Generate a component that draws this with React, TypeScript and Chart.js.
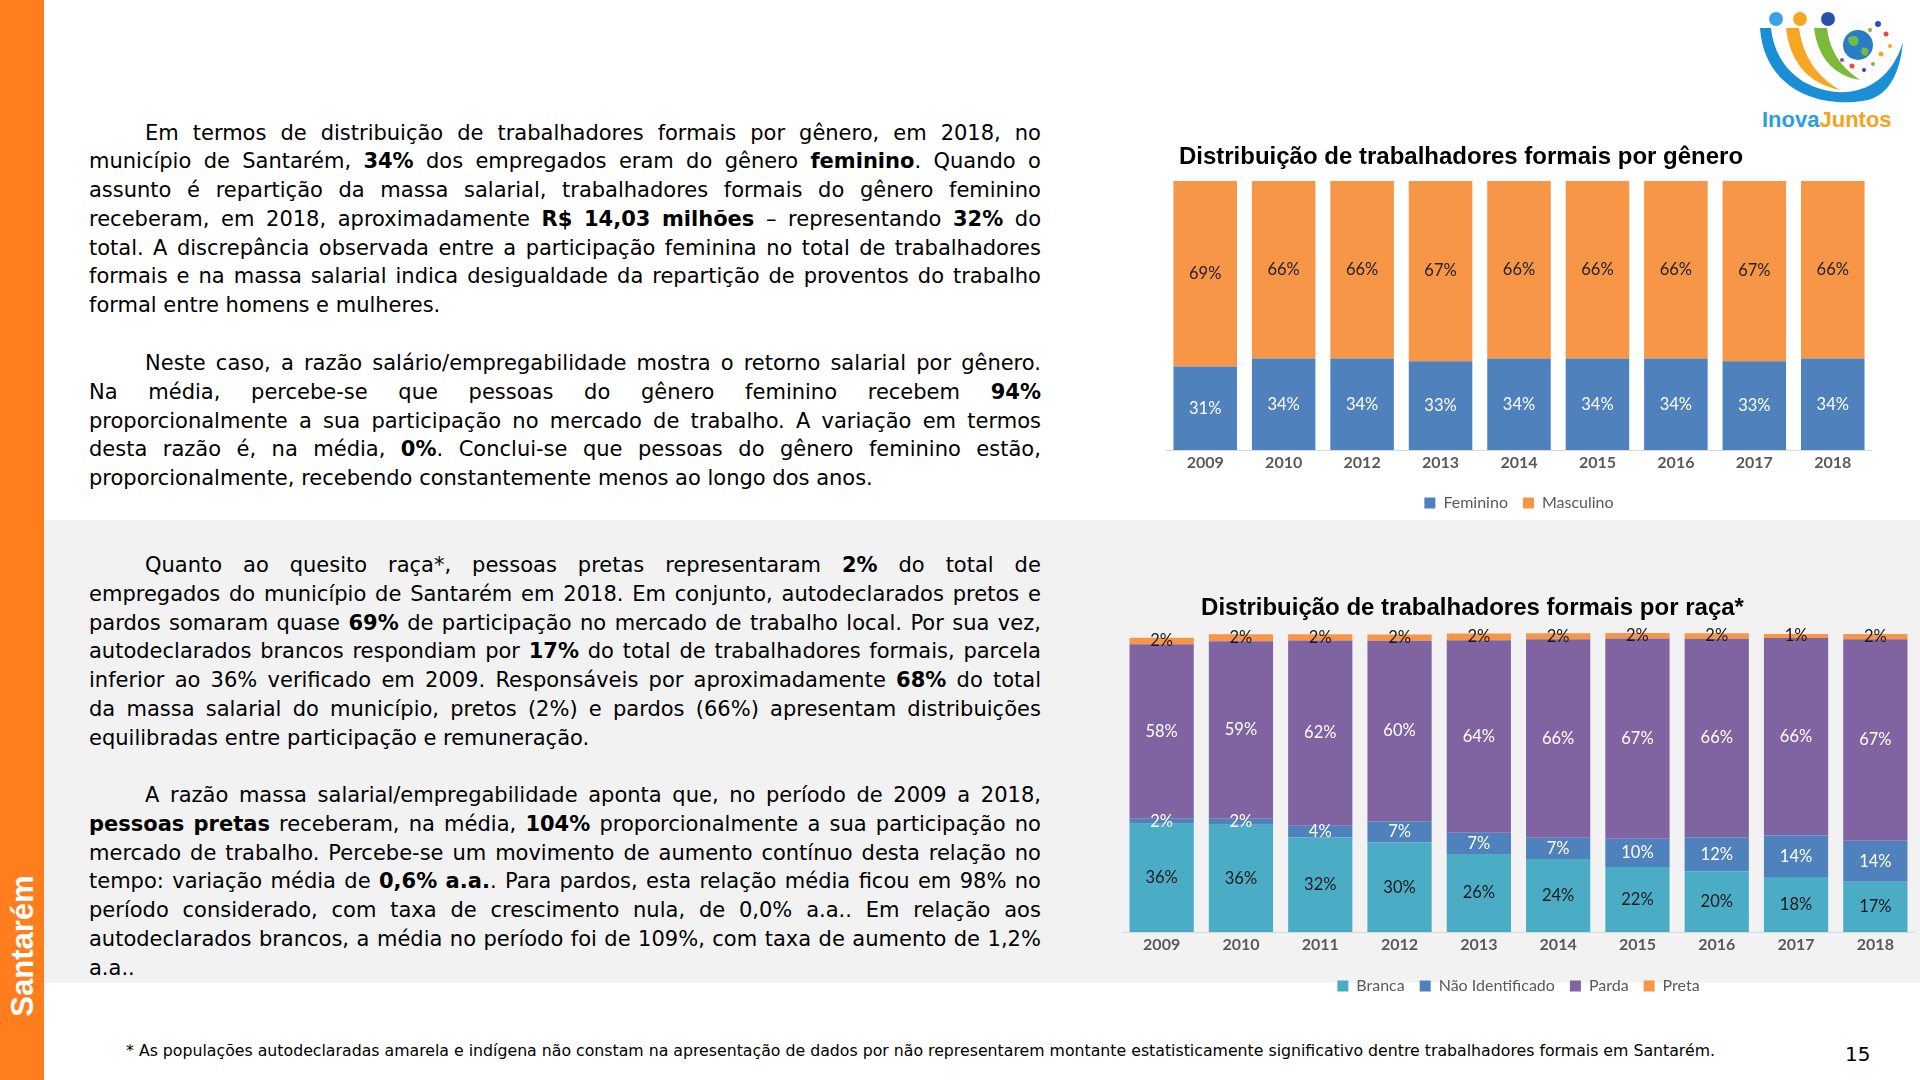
import React, { useEffect, useRef } from 'react';
import { Chart, registerables } from 'chart.js';

Chart.register(...registerables);

// ---------- DATA ----------
const genderYears = ['2009', '2010', '2012', '2013', '2014', '2015', '2016', '2017', '2018'];
const feminino = [31, 34, 34, 33, 34, 34, 34, 33, 34];
const masculino = [69, 66, 66, 67, 66, 66, 66, 67, 66];

const raceYears = ['2009', '2010', '2011', '2012', '2013', '2014', '2015', '2016', '2017', '2018'];
const branca = [36.2, 35.9, 31.7, 29.9, 26.1, 24.4, 21.7, 20.2, 18.4, 16.8];
const naoIdentificado = [1.7, 2.0, 3.8, 7.1, 7.1, 7.1, 9.5, 11.5, 13.9, 13.7];
const parda = [58.3, 59.3, 62.0, 60.4, 64.4, 66.4, 67.0, 66.4, 66.0, 67.4];
const preta = [2.2, 2.4, 2.1, 2.1, 2.2, 2.0, 1.8, 1.8, 1.4, 1.8];

const genderTitle = 'Distribuição de trabalhadores formais por gênero';
const raceTitle = 'Distribuição de trabalhadores formais por raça*';

const paragraph1 = [
  'Em termos de distribuição de trabalhadores formais por gênero, em 2018, no',
  'município de Santarém, **34%** dos empregados eram do gênero **feminino**. Quando o',
  'assunto é repartição da massa salarial, trabalhadores formais do gênero feminino',
  'receberam, em 2018, aproximadamente **R$ 14,03 milhões** – representando **32%** do',
  'total. A discrepância observada entre a participação feminina no total de trabalhadores',
  'formais e na massa salarial indica desigualdade da repartição de proventos do trabalho',
  'formal entre homens e mulheres.',
];
const paragraph2 = [
  'Neste caso, a razão salário/empregabilidade mostra o retorno salarial por gênero.',
  'Na média, percebe-se que pessoas do gênero feminino recebem **94%**',
  'proporcionalmente a sua participação no mercado de trabalho. A variação em termos',
  'desta razão é, na média, **0%**. Conclui-se que pessoas do gênero feminino estão,',
  'proporcionalmente, recebendo constantemente menos ao longo dos anos.',
];
const paragraph3 = [
  'Quanto ao quesito raça*, pessoas pretas representaram **2%** do total de',
  'empregados do município de Santarém em 2018. Em conjunto, autodeclarados pretos e',
  'pardos somaram quase **69%** de participação no mercado de trabalho local. Por sua vez,',
  'autodeclarados brancos respondiam por **17%** do total de trabalhadores formais, parcela',
  'inferior ao 36% verificado em 2009. Responsáveis por aproximadamente **68%** do total',
  'da massa salarial do município, pretos (2%) e pardos (66%) apresentam distribuições',
  'equilibradas entre participação e remuneração.',
];
const paragraph4 = [
  'A razão massa salarial/empregabilidade aponta que, no período de 2009 a 2018,',
  '**pessoas pretas** receberam, na média, **104%** proporcionalmente a sua participação no',
  'mercado de trabalho. Percebe-se um movimento de aumento contínuo desta relação no',
  'tempo: variação média de **0,6% a.a.**. Para pardos, esta relação média ficou em 98% no',
  'período considerado, com taxa de crescimento nula, de 0,0% a.a.. Em relação aos',
  'autodeclarados brancos, a média no período foi de 109%, com taxa de aumento de 1,2%',
  'a.a..',
];
const footnote =
  '* As populações autodeclaradas amarela e indígena não constam na apresentação de dados por não representarem montante estatisticamente significativo dentre trabalhadores formais em Santarém.';
const sideLabel = 'Santarém';
const pageNumber = '15';

// ---------- TEXT HELPERS ----------
type Piece = { t: string; b: boolean };
function parseLine(line: string): Piece[][] {
  const parts = line.split('**');
  const words: Piece[][] = [[]];
  parts.forEach((p, i) => {
    const bold = i % 2 === 1;
    p.split(' ').forEach((piece, j) => {
      if (j > 0) words.push([]);
      if (piece) words[words.length - 1].push({ t: piece, b: bold });
    });
  });
  return words.filter((w) => w.length > 0);
}

function Word({ w }: { w: Piece[] }) {
  return (
    <span>
      {w.map((p, i) => (
        <span key={i} style={{ fontWeight: p.b ? 'bold' : 'normal' }}>
          {p.t}
        </span>
      ))}
    </span>
  );
}

function Paragraph({ lines, top }: { lines: string[]; top: number }) {
  return (
    <div
      style={{
        position: 'absolute',
        left: 89,
        top,
        width: 952,
        fontFamily: "'DejaVu Sans', Verdana, sans-serif",
        fontSize: 21,
        lineHeight: '28.8px',
        color: '#000',
      }}
    >
      {lines.map((line, li) => {
        const words = parseLine(line);
        const last = li === lines.length - 1;
        const indent = li === 0 ? 56 : 0;
        if (last) {
          return (
            <div key={li} style={{ paddingLeft: indent, whiteSpace: 'nowrap', height: 28.8 }}>
              {words.map((w, i) => (
                <React.Fragment key={i}>
                  {i > 0 ? ' ' : ''}
                  <Word w={w} />
                </React.Fragment>
              ))}
            </div>
          );
        }
        return (
          <div
            key={li}
            style={{
              display: 'flex',
              justifyContent: 'space-between',
              paddingLeft: indent,
              whiteSpace: 'nowrap',
              height: 28.8,
            }}
          >
            {words.map((w, i) => (
              <Word key={i} w={w} />
            ))}
          </div>
        );
      })}
    </div>
  );
}

// ---------- CHART ----------
function makeLabelPlugin(colors: string[]) {
  return {
    id: 'segLabels',
    afterDatasetsDraw(chart: any) {
      const ctx = chart.ctx;
      chart.data.datasets.forEach((ds: any, di: number) => {
        const meta = chart.getDatasetMeta(di);
        if (meta.hidden) return;
        meta.data.forEach((el: any, i: number) => {
          const v = ds.data[i];
          const { x, y, base } = el.getProps(['x', 'y', 'base'], true);
          ctx.save();
          ctx.font = "16.5px Lato, 'Noto Sans', sans-serif";
          ctx.fillStyle = colors[di];
          ctx.textAlign = 'center';
          ctx.textBaseline = 'middle';
          ctx.fillText(Math.round(v) + '%', x, (y + base) / 2);
          ctx.restore();
        });
      });
    },
  };
}

type Box = { x: number; y: number; w: number; h: number };

function StackedChart(props: {
  labels: string[];
  series: { label: string; data: number[]; color: string; text: string }[];
  title: string;
  box: Box;
  leftGap: number;
  titlePad: [number, number];
  axisExtra: number;
}) {
  const ref = useRef<HTMLCanvasElement>(null);
  useEffect(() => {
    const { labels, series, title, leftGap, titlePad, axisExtra } = props;
    const chart = new Chart(ref.current as HTMLCanvasElement, {
      type: 'bar',
      data: {
        labels,
        datasets: series.map((s) => ({
          label: s.label,
          data: s.data,
          backgroundColor: s.color,
          borderWidth: 0,
          categoryPercentage: 0.81,
          barPercentage: 1.0,
        })),
      },
      options: {
        animation: false,
        responsive: false,
        maintainAspectRatio: false,
        layout: { padding: 0 },
        plugins: {
          title: {
            display: true,
            text: title,
            align: 'center',
            fullSize: true,
            color: '#000000',
            font: { family: "'Liberation Sans', Arial, sans-serif", weight: 'bold', size: 24 },
            padding: { top: titlePad[0], bottom: titlePad[1] },
          },
          legend: {
            position: 'bottom',
            fullSize: false,
            labels: {
              color: '#595959',
              font: { family: "Lato, 'Noto Sans', sans-serif", size: 16 },
              boxWidth: 11,
              boxHeight: 11,
              padding: 15,
            },
          },
          tooltip: { enabled: false },
        },
        scales: {
          x: {
            stacked: true,
            grid: { display: false, drawTicks: false },
            border: { display: true, color: '#D9D9D9', width: 1 },
            ticks: {
              color: '#595959',
              font: { family: "Lato, 'Noto Sans', sans-serif", size: 16, weight: 'bold' },
              padding: 3,
            },
            afterFit: (s: any) => {
              s.height += axisExtra;
            },
          },
          y: {
            stacked: true,
            min: 0,
            max: 100,
            display: true,
            ticks: { display: false },
            grid: { display: false, drawTicks: false },
            border: { display: false },
            afterFit: (s: any) => {
              s.width = leftGap;
            },
          },
        },
      } as any,
      plugins: [makeLabelPlugin(series.map((s) => s.text))],
    });
    return () => chart.destroy();
  }, []);
  const { box } = props;
  return (
    <canvas
      ref={ref}
      width={box.w}
      height={box.h}
      style={{ position: 'absolute', left: box.x, top: box.y, width: box.w, height: box.h }}
    />
  );
}

function Logo() {
  return (
    <svg
      width={180}
      height={140}
      viewBox="0 0 180 140"
      style={{ position: 'absolute', left: 1740, top: 0 }}
    >
      <path d="M 20 28 C 24 88, 78 110, 128 100 C 150 94, 160 72, 163 42 C 152 78, 126 94, 96 92 C 56 88, 34 60, 31 28 Z" fill="#1B8FD6" />
      <path d="M 46 28 C 50 64, 70 84, 100 90 C 76 76, 63 56, 59 28 Z" fill="#F5A623" />
      <path d="M 74 28 C 78 60, 96 76, 120 80 C 101 67, 90 52, 87 28 Z" fill="#7DBA3A" />
      <circle cx={36} cy={19} r={7} fill="#3BA3E6" />
      <circle cx={60} cy={19} r={7} fill="#F5A623" />
      <circle cx={88} cy={19} r={7} fill="#2C4FA8" />
      <circle cx={118} cy={45} r={15} fill="#2A7DC4" />
      <path d="M 108 38 C 114 34, 120 36, 118 44 C 114 48, 108 46, 108 38 Z" fill="#6DBE45" />
      <path d="M 122 48 C 128 46, 131 52, 126 56 C 122 56, 120 52, 122 48 Z" fill="#6DBE45" />
      <circle cx={138} cy={24} r={3} fill="#2C4FA8" />
      <circle cx={146} cy={34} r={2.5} fill="#E94E3C" />
      <circle cx={141} cy={54} r={2.5} fill="#F5A623" />
      <circle cx={133} cy={64} r={2} fill="#7DBA3A" />
      <circle cx={112} cy={66} r={2.5} fill="#E94E3C" />
      <circle cx={102} cy={60} r={2} fill="#8E44AD" />
      <circle cx={124} cy={70} r={2} fill="#2C4FA8" />
      <circle cx={150} cy={46} r={2} fill="#F5A623" />
      <circle cx={130} cy={30} r={2} fill="#7DBA3A" />
      <text
        x={22}
        y={127}
        fontFamily="'Liberation Sans', Arial, sans-serif"
        fontWeight="bold"
        fontSize={22}
      >
        <tspan fill="#2A9FE0">Inova</tspan>
        <tspan fill="#F7A21B">Juntos</tspan>
      </text>
    </svg>
  );
}

export default function App() {
  useEffect(() => {
    document.body.style.margin = '0';
  }, []);
  return (
    <div
      style={{
        position: 'absolute',
        left: 0,
        top: 0,
        width: 1920,
        height: 1080,
        overflow: 'hidden',
        background: '#FFFFFF',
      }}
    >
      {/* gray band */}
      <div style={{ position: 'absolute', left: 44, top: 520, width: 1876, height: 463, background: '#F2F2F2' }} />
      {/* orange sidebar */}
      <div style={{ position: 'absolute', left: 0, top: 0, width: 44, height: 1080, background: '#FE7E1E' }} />
      <div
        style={{
          position: 'absolute',
          left: 22,
          top: 946,
          transform: 'translate(-50%, -50%) rotate(-90deg)',
          color: '#FFFFFF',
          fontFamily: "'Liberation Sans', Arial, sans-serif",
          fontWeight: 'bold',
          fontSize: 31,
          whiteSpace: 'nowrap',
          lineHeight: 1,
        }}
      >
        {sideLabel}
      </div>

      <Logo />

      <Paragraph lines={paragraph1} top={118.5} />
      <Paragraph lines={paragraph2} top={349} />
      <Paragraph lines={paragraph3} top={551} />
      <Paragraph lines={paragraph4} top={781} />

      <StackedChart
        labels={genderYears}
        series={[
          { label: 'Feminino', data: feminino, color: '#4F81BD', text: '#FFFFFF' },
          { label: 'Masculino', data: masculino, color: '#F79646', text: '#222222' },
        ]}
        title={genderTitle}
        box={{ x: 1050, y: 130, w: 822, h: 391 }}
        leftGap={116}
        titlePad={[12.6, 9.6]}
        axisExtra={4.8}
      />

      <StackedChart
        labels={raceYears}
        series={[
          { label: 'Branca', data: branca, color: '#4BACC6', text: '#1A1A1A' },
          { label: 'Não Identificado', data: naoIdentificado, color: '#4F81BD', text: '#FFFFFF' },
          { label: 'Parda', data: parda, color: '#8064A2', text: '#FFFFFF' },
          { label: 'Preta', data: preta, color: '#F79646', text: '#1A1A1A' },
        ]}
        title={raceTitle}
        box={{ x: 1030, y: 581, w: 885, h: 423 }}
        leftGap={92}
        titlePad={[12.6, 10.6]}
        axisExtra={5.8}
      />

      <div
        style={{
          position: 'absolute',
          left: 126,
          top: 1042,
          fontFamily: "'DejaVu Sans', Verdana, sans-serif",
          fontSize: 15.75,
          lineHeight: '18px',
          color: '#000',
          whiteSpace: 'nowrap',
        }}
      >
        {footnote}
      </div>
      <div
        style={{
          position: 'absolute',
          left: 1845,
          top: 1042,
          fontFamily: "'DejaVu Sans', Verdana, sans-serif",
          fontSize: 20,
          lineHeight: '24px',
          color: '#000',
        }}
      >
        {pageNumber}
      </div>
    </div>
  );
}
